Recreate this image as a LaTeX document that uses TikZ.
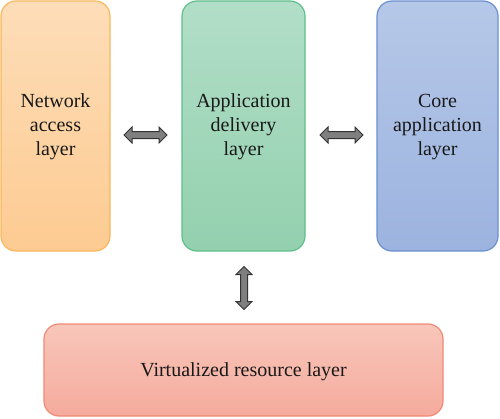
\documentclass[tikz,border=0pt]{standalone}
\usepackage{fontspec}
\setmainfont{Liberation Serif}
\usetikzlibrary{shapes.arrows}
\definecolor{orT}{HTML}{FDDDB8}\definecolor{orB}{HTML}{FDCB92}\definecolor{orD}{HTML}{F8B85C}
\definecolor{grT}{HTML}{B2DEC8}\definecolor{grB}{HTML}{93D0AE}\definecolor{grD}{HTML}{5EBF8A}
\definecolor{blT}{HTML}{B6C8E8}\definecolor{blB}{HTML}{9CB3DF}\definecolor{blD}{HTML}{6A8FD0}
\definecolor{rdT}{HTML}{F8C6BA}\definecolor{rdB}{HTML}{F5AB9D}\definecolor{rdD}{HTML}{EF8A75}
\definecolor{arF}{HTML}{7F7F7F}\definecolor{arD}{HTML}{333333}
\begin{document}
\begin{tikzpicture}[x=1pt,y=-1pt,
  layer/.style={rounded corners=15pt,line width=1.2pt},
  lbl/.style={font=\fontsize{20}{24}\selectfont,align=center,text=black!90},
  dbl/.style={double arrow,draw=arD,fill=arF,line width=1pt,inner xsep=0pt,inner ysep=3pt,
    minimum height=43pt,minimum width=15pt,double arrow head extend=4.5pt}]
\useasboundingbox (0,0) rectangle (500,418);
\draw[layer,draw=orD,top color=orT,bottom color=orB] (1,1) rectangle (110,251);
\draw[layer,draw=grD,top color=grT,bottom color=grB] (182,1) rectangle (305,251);
\draw[layer,draw=blD,top color=blT,bottom color=blB] (377,1) rectangle (498,251);
\draw[layer,draw=rdD,top color=rdT,bottom color=rdB] (44,324) rectangle (443,416);
\node[lbl] (na) at (55.5,127) {Network\\access\\layer};
\node[lbl] (ad) at (243.5,127) {Application\\delivery\\layer};
\node[lbl] (ca) at (437.5,127) {Core\\application\\layer};
\node[lbl] (vr) at (243.5,372) {Virtualized resource layer};
\node[dbl] (a1) at (145.5,135) {};
\node[dbl] (a2) at (341.5,135) {};
\node[dbl,rotate=90] (a3) at (244,288) {};
\end{tikzpicture}
\end{document}
